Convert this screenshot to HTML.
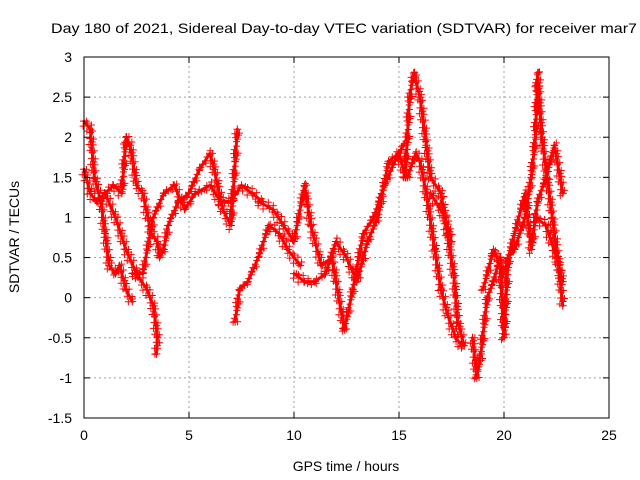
<!DOCTYPE html>
<html><head><meta charset="utf-8"><style>
html,body{margin:0;padding:0;background:#fff}
svg{display:block;font-family:"Liberation Sans",sans-serif}
</style></head><body>
<svg id="chart" width="640" height="480" viewBox="0 0 640 480">
<text x="344" y="33" font-size="14" text-anchor="middle" textLength="586" lengthAdjust="spacingAndGlyphs">Day 180 of 2021, Sidereal Day-to-day VTEC variation (SDTVAR) for receiver mar7</text>
<g id="grid"></g>
<g id="series"></g>
<rect x="84" y="57" width="525" height="361" fill="none" stroke="#000" stroke-width="1"/>
<g id="axes"></g>
<text x="346" y="471" font-size="14" text-anchor="middle">GPS time / hours</text>
<text transform="translate(19,237) rotate(-90)" font-size="14" text-anchor="middle">SDTVAR / TECUs</text>
</svg>
<script>
const xTicks=[0,5,10,15,20,25];
const yTicks=[-1.5,-1,-0.5,0,0.5,1,1.5,2,2.5,3];
const trackA=[[0,2.2],[0.3,2.1],[0.5,1.5],[0.8,1.2],[1.0,0.8],[1.2,0.4],[1.5,0.3],[1.7,0.4],[2,0.1],[2.3,-0.05]];
const trackB=[[0,1.6],[0.3,1.3],[0.6,1.2],[1,1.3],[1.4,1.4],[1.8,1.3],[2.0,2.0],[2.2,1.9],[2.5,1.4],[2.8,1.3],[3.2,0.8],[3.5,0.7],[3.6,0.5],[3.8,0.6],[4.0,0.9],[4.5,1.2],[5,1.3],[5.5,1.6],[6,1.8],[6.2,1.6],[6.6,1.1],[7,0.9],[7.2,1.7],[7.3,2.1]];
const trackC=[[1.0,1.3],[1.5,1.0],[2,0.6],[2.5,0.3],[3,0.1],[3.3,-0.1],[3.5,-0.5],[3.45,-0.7]];
const trackD=[[2.3,0.3],[2.8,0.3],[3.3,1.0],[3.8,1.3],[4.3,1.4],[4.8,1.1],[5.3,1.3],[6,1.4],[6.5,1.2],[7,1.2],[7.5,1.4],[8,1.3],[8.5,1.2]];
const trackE=[[7.2,-0.3],[7.4,0.1],[7.8,0.2],[8.3,0.5],[8.8,0.9],[9.3,0.8],[9.7,0.6],[10.3,0.4]];
const trackF=[[8.3,1.2],[9,1.1],[9.5,0.9],[10,0.7],[10.5,1.4],[10.8,0.9],[11.3,0.4],[11.8,0.5],[12,0.2],[12.4,-0.4],[12.8,0.1],[13.3,0.8],[13.8,1.0],[14.3,1.4],[14.8,1.7],[15.2,1.9]];
const trackG=[[10,0.3],[10.5,0.2],[11,0.2],[11.5,0.3],[12,0.7],[12.5,0.5],[13,0.2],[13.5,0.7],[14,1.0],[14.5,1.7],[15,1.8],[15.3,1.5],[15.5,2.5],[15.7,2.8],[16,2.5],[16.3,1.9],[16.5,1.5],[17,1.3],[17.3,0.8],[17.6,0.3],[17.8,-0.3],[18.1,-0.6]];
const trackH=[[15.4,1.5],[15.8,1.8],[16,1.7],[16.3,1.3],[16.7,0.6],[17,0.1],[17.3,-0.2],[17.7,-0.5],[18,-0.6]];
const trackI=[[16.5,1.3],[17.2,1.0],[17.5,0.7]];
const trackJ=[[18.5,-0.5],[18.7,-1.0],[18.9,-0.7],[19.2,0.0],[19.5,0.2],[19.8,0.5],[20,-0.5],[20.2,0.5],[20.5,0.6],[21,1.0],[21.3,1.5],[21.5,2.0],[21.6,2.8],[21.8,2.0],[22,1.6],[22.3,1.0],[22.6,0.4],[22.8,-0.1]];
const trackK=[[19,0.1],[19.5,0.6],[20,0.3],[20.5,0.8],[21,1.3],[21.3,0.6],[21.6,1.2],[22,1.5],[22.4,1.9],[22.8,1.3]];
const trackL=[[21.5,1.0],[22,0.9],[22.5,0.5],[22.8,0.2]];
const tracks=[trackA,trackB,trackC,trackD,trackE,trackF,trackG,trackH,trackI,trackJ,trackK,trackL];

const NS="http://www.w3.org/2000/svg";
const X0=84,X1=609,Y0=418,Y1=57,xMin=0,xMax=25,yMin=-1.5,yMax=3;
function sx(v){return X0+(v-xMin)/(xMax-xMin)*(X1-X0);}
function sy(v){return Y0-(v-yMin)/(yMax-yMin)*(Y0-Y1);}
function mk(tag,attrs,parent){const e=document.createElementNS(NS,tag);for(const k in attrs)e.setAttribute(k,attrs[k]);parent.appendChild(e);return e;}
const grid=document.getElementById('grid'),axes=document.getElementById('axes'),series=document.getElementById('series');
xTicks.forEach(t=>{
  const x=sx(t);
  if(t>xMin&&t<xMax){const g=mk('line',{x1:x,x2:x,y1:Y0,y2:Y1,stroke:'#a0a0a0','stroke-dasharray':'2,3'},grid);
  
  }
  mk('line',{x1:x,x2:x,y1:Y0,y2:Y0-6,stroke:'#000'},axes);
  mk('line',{x1:x,x2:x,y1:Y1,y2:Y1+6,stroke:'#000'},axes);
  const l=mk('text',{x:x,y:Y0+22,'font-size':14,'text-anchor':'middle'},axes);l.textContent=t;
  
  
});
yTicks.forEach(t=>{
  const y=sy(t);
  if(t>yMin&&t<yMax){const g=mk('line',{x1:X0,x2:X1,y1:y,y2:y,stroke:'#a0a0a0','stroke-dasharray':'2,3'},grid);
  
  }
  mk('line',{x1:X0,x2:X0+6,y1:y,y2:y,stroke:'#000'},axes);
  mk('line',{x1:X1,x2:X1-6,y1:y,y2:y,stroke:'#000'},axes);
  const l=mk('text',{x:X0-12,y:y+5,'font-size':14,'text-anchor':'end'},axes);l.textContent=t;
  
  
});
tracks.forEach((tr,i)=>{
  const g=mk('g',{},series);
  
  
  const pl=mk('polyline',{points:tr.map(p=>sx(p[0])+','+sy(p[1])).join(' '),fill:'none',stroke:'#ff0000','stroke-width':3,'stroke-linejoin':'round','stroke-linecap':'round'},g);
  const L=pl.getTotalLength();
  let d='';
  const offs=[0,3,-2,4,-4,1,-3,2];
  let k=0;
  for(let s=0;s<=L;s+=2.5){
    const pt=pl.getPointAtLength(s);
    const o=offs[k%offs.length],o2=offs[(k+3)%offs.length];k++;
    const x=pt.x+o2*0.6,y=pt.y+o;
    d+=`M${x-3.5},${y}H${x+3.5}M${x},${y-3.5}V${y+3.5}`;
  }
  tr.forEach(p=>{const x=sx(p[0]),y=sy(p[1]);d+=`M${x-4},${y}H${x+4}M${x},${y-4}V${y+4}`;});
  mk('path',{d:d,stroke:'#ff0000','stroke-width':1,fill:'none'},g);
});
</script>
</body></html>
